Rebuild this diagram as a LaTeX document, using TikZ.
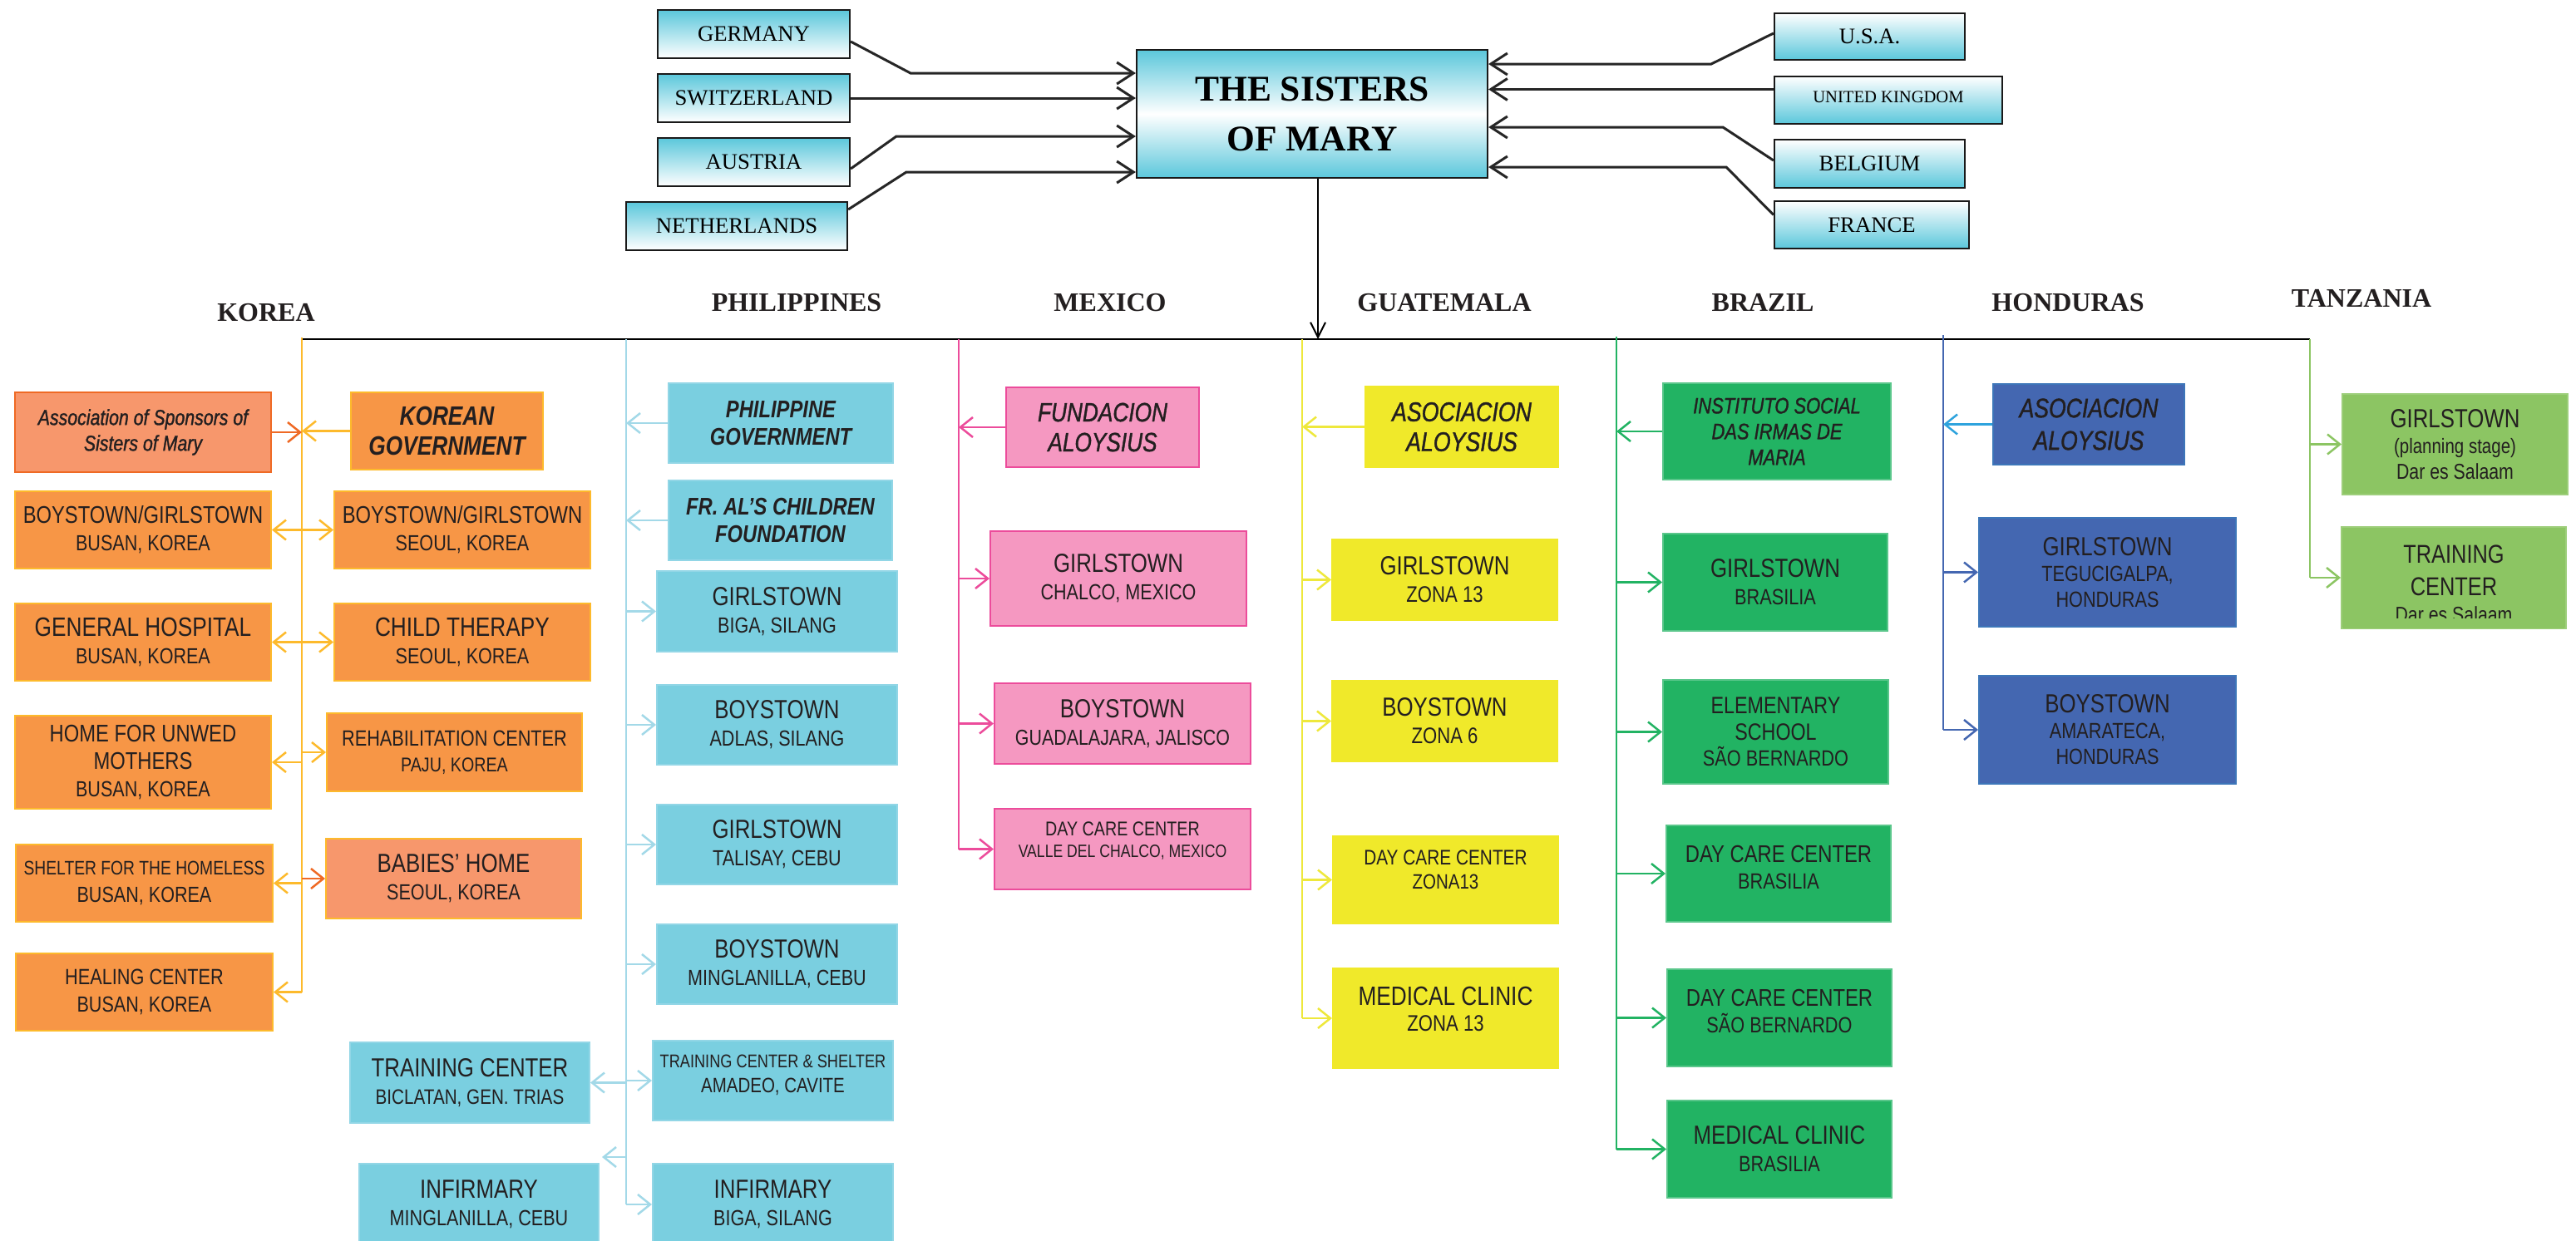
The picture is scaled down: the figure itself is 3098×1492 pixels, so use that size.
\documentclass[tikz,border=0pt]{standalone}
\usepackage{fontspec}
\setmainfont{Liberation Serif}
\newfontfamily\sansn[FakeStretch=0.82]{Liberation Sans}
\newfontfamily\sansm[FakeStretch=0.82,FakeBold=1.2]{Liberation Sans}
\usetikzlibrary{arrows.meta,calc}
\definecolor{korF}{HTML}{F79646}
\definecolor{korS}{HTML}{F7976C}
\definecolor{korB}{HTML}{FDBA2C}
\definecolor{korR}{HTML}{EF6A25}
\definecolor{phF}{HTML}{7ACFE0}
\definecolor{phB}{HTML}{92D6E6}
\definecolor{phL}{HTML}{A3D9E8}
\definecolor{mxF}{HTML}{F598C1}
\definecolor{mxL}{HTML}{EC4C9B}
\definecolor{gtF}{HTML}{F0E92A}
\definecolor{gtL}{HTML}{EEE83C}
\definecolor{brF}{HTML}{22B363}
\definecolor{hnF}{HTML}{4467B1}
\definecolor{hnA}{HTML}{2EA3DD}
\definecolor{tzF}{HTML}{8CC563}
\definecolor{topC}{HTML}{5BC7DB}
\definecolor{txt}{HTML}{231F20}
\newcommand\fsz[2]{{\fontsize{#1}{33}\selectfont #2}}
\newcommand\adddp[1]{\rule[-#1pt]{0pt}{#1pt}}
\newcommand\addht[1]{\rule{0pt}{#1pt}}
\tikzset{
  bb/.style n args={4}{at={({(#1+#3)/2},{(#2+#4)/2})}, anchor=center,
     minimum width=#3pt-#1pt, minimum height=#4pt-#2pt},
  fnt/.style 2 args={font=\sansn\fontsize{#1}{#2}\selectfont},
  itf/.style 2 args={font=\sansm\itshape\fontsize{#1}{#2}\selectfont},
  bif/.style 2 args={font=\sansn\bfseries\itshape\fontsize{#1}{#2}\selectfont},
  bx/.style={inner sep=0pt, align=center, text=txt, line width=2pt, fnt={26.3}{33}},
  kor/.style={bx, fill=korF, draw=korB},
  kors/.style={bx, fill=korS, draw=korB},
  phb/.style={bx, fill=phF, draw=phB},
  mxb/.style={bx, fill=mxF, draw=mxL},
  gtb/.style={bx, fill=gtF, draw=gtF},
  brb/.style={bx, fill=brF, draw=brF!75!white},
  hnb/.style={bx, fill=hnF, draw=hnF!90!cyan},
  tzb/.style={bx, fill=tzF, draw=tzF!85!white},
  ln/.style={line width=2.5pt},
  arr/.style={line width=2.5pt, -{Straight Barb[length=15pt,width=24pt]}},
  topbox/.style={draw=black!90, line width=2.2pt, inner sep=0pt, text=black, font=\fontsize{26.7}{30}\selectfont},
  topL/.style={topbox, top color=topC, bottom color=white},
  topR/.style={topbox, top color=white, bottom color=topC},
  tarr/.style={line width=3pt, black!85, -{Straight Barb[length=20pt,width=26pt]}},
  hdr/.style={font=\bfseries\fontsize{32}{36}\selectfont, text=txt, anchor=base, inner sep=0pt}
}
\begin{document}
\begin{tikzpicture}[x=1pt,y=-1pt]
\useasboundingbox (0,0) rectangle (3098,1492);
\fill[white] (0,0) rectangle (3098,1492);

% ---------- top ----------
\node[topL, bb={791}{12}{1022}{70}] (ger) {GERMANY};
\node[topL, bb={791}{89}{1022}{147}] (swi) {SWITZERLAND};
\node[topL, bb={791}{166}{1022}{224}] (aus) {AUSTRIA};
\node[topL, bb={753}{243}{1019}{301}] (net) {NETHERLANDS};
\node[topbox, top color=topC, bottom color=topC, middle color=white, align=center,
      font=\bfseries\fontsize{43.5}{60}\selectfont, bb={1367}{60}{1789}{214}] (sis) {THE SISTERS\\OF MARY};
\node[topR, bb={2134}{16}{2363}{72}] (usa) {U.S.A.};
\node[topR, font=\fontsize{20.6}{24}\selectfont, bb={2134}{92}{2408}{149}] (uk) {UNITED KINGDOM\adddp{8}};
\node[topR, bb={2134}{168}{2363}{226}] (bel) {BELGIUM};
\node[topR, bb={2134}{242}{2368}{299}] (fra) {FRANCE};

\coordinate (gerb) at (1095,88);
\coordinate (ausb) at (1078,164);
\coordinate (netb) at (1090,207);
\coordinate (usab) at (2058,77);
\coordinate (belb) at (2072,153);
\coordinate (frab) at (2076,201);
\coordinate (ukp) at ($(uk.west)+(0,-13)$);
\draw[tarr] ($(ger.east)+(0,9)$) -- (gerb) -- (gerb -| sis.west);
\draw[tarr] (swi.east) -- (swi.east -| sis.west);
\draw[tarr] ($(aus.east)+(0,8)$) -- (ausb) -- (ausb -| sis.west);
\draw[tarr] ($(net.east)+(0,-20)$) -- (netb) -- (netb -| sis.west);
\draw[tarr] ($(usa.west)+(0,-4)$) -- (usab) -- (usab -| sis.east);
\draw[tarr] (ukp) -- (ukp -| sis.east);
\draw[tarr] ($(bel.west)+(0,-4)$) -- (belb) -- (belb -| sis.east);
\draw[tarr] ($(fra.west)+(0,-12)$) -- (frab) -- (frab -| sis.east);

% ---------- trunk coordinates ----------
\coordinate (ktop) at (363,408);
\coordinate (ptop) at (753,408);
\coordinate (mtop) at (1153,408);
\coordinate (gtop) at (1566,408);
\coordinate (btop) at (1944,408);
\coordinate (htop) at (2337,408);
\coordinate (ttop) at (2778,408);
\draw[black, line width=2pt] (ktop) -- (ttop);
\coordinate (sisb) at ($(sis.south)+(7,0)$);
\draw[line width=2pt, black, -{Straight Barb[length=18pt,width=18pt]}] (sisb) -- (sisb |- ktop);

% ---------- headers ----------
\node[hdr] (hkor) at (320,386) {KOREA};
\node[hdr] (hphi) at (958,374) {PHILIPPINES};
\node[hdr] (hmex) at (1335,374) {MEXICO};
\node[hdr] (hgua) at (1737,374) {GUATEMALA};
\node[hdr] (hbra) at (2120,374) {BRAZIL};
\node[hdr] (hhon) at (2487,374) {HONDURAS};
\node[hdr] (htan) at (2840,369) {TANZANIA};

% ---------- KOREA ----------
\node[kors, draw=korR, itf={26}{31}, bb={18}{472}{326}{568}] (kas) {Association of Sponsors of\\Sisters of Mary};
\node[kor, bif={32}{36}, bb={422}{472}{653}{565}] (kgov) {KOREAN\\GOVERNMENT};
\node[kor, bb={18}{591}{326}{684}] (kbb) {\fsz{29}{BOYSTOWN/GIRLSTOWN}\\BUSAN, KOREA};
\node[kor, bb={402}{591}{710}{684}] (ksb) {\fsz{29}{BOYSTOWN/GIRLSTOWN}\\SEOUL, KOREA};
\node[kor, bb={18}{726}{326}{819}] (kgh) {\fsz{32}{GENERAL HOSPITAL}\\BUSAN, KOREA};
\node[kor, bb={402}{726}{710}{819}] (kct) {\fsz{32}{CHILD THERAPY}\\SEOUL, KOREA};
\node[kor, bb={18}{861}{326}{973}] (khu) {\fsz{29}{HOME FOR UNWED}\\\fsz{29}{MOTHERS}\\BUSAN, KOREA};
\node[kor, fnt={24}{31}, bb={393}{858}{700}{952}] (krc) {\fsz{26.5}{REHABILITATION CENTER}\\PAJU, KOREA};
\node[kor, bb={19}{1016}{328}{1109}] (ksh) {\fsz{23.5}{SHELTER FOR THE HOMELESS}\\BUSAN, KOREA};
\node[kors, bb={392}{1009}{699}{1105}] (kbh) {\fsz{31.5}{BABIES’ HOME}\\SEOUL, KOREA};
\node[kor, bb={19}{1147}{328}{1240}] (khc) {\fsz{26.5}{HEALING CENTER}\\BUSAN, KOREA};

\draw[ln, korB] ($(ktop)+(0,-2)$) -- (ktop |- khc.east);
\draw[arr, korR] (kas.east) -- (kas.east -| ktop);
\draw[arr, korB] (kgov.west) -- (kgov.west -| ktop);
\draw[arr, korB] (kbb.east -| ktop) -- (kbb.east);
\draw[arr, korB] (ksb.west -| ktop) -- (ksb.west);
\draw[arr, korB] (kgh.east -| ktop) -- (kgh.east);
\draw[arr, korB] (kct.west -| ktop) -- (kct.west);
\draw[arr, korB] (khu.east -| ktop) -- (khu.east);
\draw[arr, korB] (krc.west -| ktop) -- (krc.west);
\draw[arr, korB] (ksh.east -| ktop) -- (ksh.east);
\draw[arr, korR] (kbh.west -| ktop) -- (kbh.west);
\draw[arr, korB] (khc.east -| ktop) -- (khc.east);

% ---------- PHILIPPINES ----------
\node[phb, bif={29}{33}, bb={804}{461}{1074}{557}] (pgov) {PHILIPPINE\\GOVERNMENT};
\node[phb, bif={29}{33}, bb={804}{578}{1073}{674}] (pfr) {FR. AL’S CHILDREN\\FOUNDATION};
\node[phb, bb={790}{687}{1079}{784}] (pgb) {\fsz{31.5}{GIRLSTOWN}\\BIGA, SILANG};
\node[phb, bb={790}{824}{1079}{920}] (pba) {\fsz{31.5}{BOYSTOWN}\\ADLAS, SILANG};
\node[phb, bb={790}{968}{1079}{1064}] (pgt) {\fsz{31.5}{GIRLSTOWN}\\TALISAY, CEBU};
\node[phb, bb={790}{1112}{1079}{1208}] (pbm) {\fsz{31.5}{BOYSTOWN}\\MINGLANILLA, CEBU};
\node[phb, fnt={25}{30}, bb={785}{1252}{1074}{1348}] (ptcs) {\fsz{22.2}{TRAINING CENTER \& SHELTER}\\AMADEO, CAVITE\adddp{16}};
\node[phb, fnt={25.2}{33}, bb={421}{1254}{709}{1351}] (ptc) {\fsz{31.5}{TRAINING CENTER}\\BICLATAN, GEN. TRIAS};
\node[phb, bb={432}{1400}{720}{1498}] (pim) {\fsz{31.5}{INFIRMARY}\\MINGLANILLA, CEBU};
\node[phb, bb={785}{1400}{1074}{1498}] (pib) {\fsz{31.5}{INFIRMARY}\\BIGA, SILANG};
\coordinate (pimA) at ($(pim.north east)+(3,-7)$);

\draw[ln, phL] (ptop) -- (ptop |- pib.west);
\draw[arr, phL] (pgov.west) -- (pgov.west -| ptop);
\draw[arr, phL] (pfr.west) -- (pfr.west -| ptop);
\draw[arr, phL] (pgb.west -| ptop) -- (pgb.west);
\draw[arr, phL] (pba.west -| ptop) -- (pba.west);
\draw[arr, phL] (pgt.west -| ptop) -- (pgt.west);
\draw[arr, phL] (pbm.west -| ptop) -- (pbm.west);
\draw[arr, phL] (ptcs.west -| ptop) -- (ptcs.west);
\draw[arr, phL] (ptc.east -| ptop) -- (ptc.east);
\draw[arr, phL] (pimA -| ptop) -- (pimA);
\draw[arr, phL] (pib.west -| ptop) -- (pib.west);

% ---------- MEXICO ----------
\node[mxb, itf={32}{36}, bb={1210}{466}{1442}{562}] (mfa) {FUNDACION\\ALOYSIUS};
\node[mxb, bb={1191}{639}{1499}{753}] (mgc) {\fsz{31.5}{GIRLSTOWN}\\CHALCO, MEXICO};
\node[mxb, fnt={26.1}{33}, bb={1196}{822}{1504}{919}] (mbg) {\fsz{31.5}{BOYSTOWN}\\GUADALAJARA, JALISCO};
\node[mxb, fnt={21.5}{26}, bb={1196}{973}{1504}{1070}] (mdc) {\fsz{24}{DAY CARE CENTER}\\VALLE DEL CHALCO, MEXICO\adddp{22}};

\draw[ln, mxL] (mtop) -- (mtop |- mdc.west);
\draw[arr, mxL] (mfa.west) -- (mfa.west -| mtop);
\draw[arr, mxL] (mgc.west -| mtop) -- (mgc.west);
\draw[arr, mxL] (mbg.west -| mtop) -- (mbg.west);
\draw[arr, mxL] (mdc.west -| mtop) -- (mdc.west);

% ---------- GUATEMALA ----------
\node[gtb, itf={32.6}{36}, bb={1642}{465}{1874}{562}] (gaa) {ASOCIACION\\ALOYSIUS};
\node[gtb, fnt={27}{33}, bb={1602}{649}{1873}{746}] (ggz) {\fsz{31.5}{GIRLSTOWN}\\ZONA 13};
\node[gtb, fnt={27}{33}, bb={1602}{819}{1873}{916}] (gbz) {\fsz{31.5}{BOYSTOWN}\\ZONA 6};
\node[gtb, fnt={25}{29}, bb={1603}{1006}{1874}{1111}] (gdc) {\fsz{25.4}{DAY CARE CENTER}\\ZONA13\adddp{24}};
\node[gtb, fnt={27}{31}, bb={1603}{1165}{1874}{1285}] (gmc) {\fsz{32}{MEDICAL CLINIC}\\ZONA 13\adddp{22}};

\draw[ln, gtL] (gtop) -- (gtop |- gmc.west);
\draw[arr, gtL] (gaa.west) -- (gaa.west -| gtop);
\draw[arr, gtL] (ggz.west -| gtop) -- (ggz.west);
\draw[arr, gtL] (gbz.west -| gtop) -- (gbz.west);
\draw[arr, gtL] (gdc.west -| gtop) -- (gdc.west);
\draw[arr, gtL] (gmc.west -| gtop) -- (gmc.west);

% ---------- BRAZIL ----------
\node[brb, itf={26.7}{31}, bb={2000}{461}{2274}{577}] (bis) {INSTITUTO SOCIAL\\DAS IRMAS DE\\MARIA};
\node[brb, fnt={26.5}{33}, bb={2000}{642}{2270}{759}] (bgb) {\fsz{31.5}{GIRLSTOWN}\\BRASILIA};
\node[brb, fnt={26.5}{31.5}, bb={2000}{818}{2271}{943}] (bes) {\fsz{28.4}{ELEMENTARY}\\\fsz{28.4}{SCHOOL}\\SÃO BERNARDO};
\node[brb, fnt={26.5}{32}, bb={2004}{993}{2274}{1109}] (bdb) {\fsz{29}{DAY CARE CENTER}\\BRASILIA\adddp{16}};
\node[brb, fnt={26.5}{32}, bb={2005}{1166}{2275}{1283}] (bds) {\fsz{29}{DAY CARE CENTER}\\SÃO BERNARDO\adddp{16}};
\node[brb, fnt={26.5}{33}, bb={2005}{1324}{2275}{1441}] (bmc) {\fsz{31.5}{MEDICAL CLINIC}\\BRASILIA};

\draw[ln, brF] ($(btop)+(0,-3)$) -- (btop |- bmc.west);
\draw[arr, brF] (bis.west) -- (bis.west -| btop);
\draw[arr, brF] (bgb.west -| btop) -- (bgb.west);
\draw[arr, brF] (bes.west -| btop) -- (bes.west);
\draw[arr, brF] (bdb.west -| btop) -- (bdb.west);
\draw[arr, brF] (bds.west -| btop) -- (bds.west);
\draw[arr, brF] (bmc.west -| btop) -- (bmc.west);

% ---------- HONDURAS ----------
\node[hnb, itf={32.4}{39}, bb={2397}{462}{2627}{559}] (haa) {ASOCIACION\\ALOYSIUS};
\node[hnb, fnt={26.4}{31}, bb={2380}{623}{2689}{754}] (hgt) {\fsz{31.5}{GIRLSTOWN}\\TEGUCIGALPA,\\HONDURAS};
\node[hnb, fnt={26.4}{31}, bb={2380}{813}{2689}{943}] (hba) {\fsz{31.5}{BOYSTOWN}\\AMARATECA,\\HONDURAS};

\draw[ln, hnF] ($(htop)+(0,-5)$) -- (htop |- hba.west);
\draw[arr, hnA] (haa.west) -- (haa.west -| htop);
\draw[arr, hnF] (hgt.west -| htop) -- (hgt.west);
\draw[arr, hnF] (hba.west -| htop) -- (hba.west);

% ---------- TANZANIA ----------
\node[tzb, fnt={26}{31}, bb={2817}{474}{3088}{595}] (tgs) {\fsz{31.5}{GIRLSTOWN}\\\fsz{25}{(planning stage)}\\Dar es Salaam};
\node[tzb, fnt={26}{39}, bb={2816}{634}{3086}{756}] (ttc) {\fsz{31}{\addht{37}TRAINING}\\\fsz{31}{CENTER}\\[-7pt]Dar es Salaam};
\fill[tzF] ($(ttc.south west)+(3,-13)$) rectangle ($(ttc.south east)+(-3,-1.5)$);

\draw[ln, tzF] (ttop) -- (ttop |- ttc.west);
\draw[arr, tzF] (tgs.west -| ttop) -- (tgs.west);
\draw[arr, tzF] (ttc.west -| ttop) -- (ttc.west);
\end{tikzpicture}
\end{document}
